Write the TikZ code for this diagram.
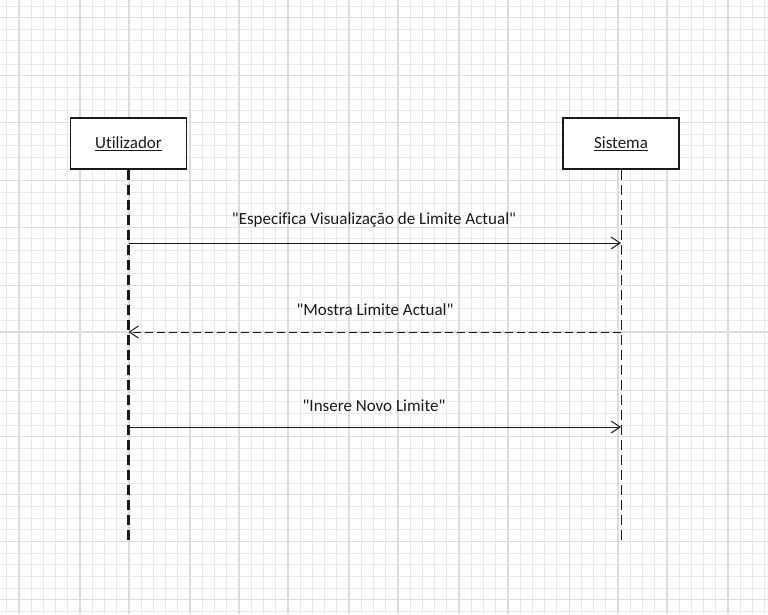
\documentclass[tikz,border=0pt]{standalone}
\usepackage{fontspec}
\setmainfont{Carlito}[Ligatures=NoCommon]
\usetikzlibrary{arrows.meta}
\definecolor{GridMinor}{HTML}{E9E9E9}
\definecolor{GridMajor}{HTML}{DCDCDC}
\definecolor{Ink}{HTML}{1A1A1A}
\tikzset{
  actor/.style={rectangle, draw=Ink, line width=1.3pt, fill=white,
             minimum width=116pt, minimum height=51pt, inner sep=0pt,
             font=\fontsize{17}{20}\selectfont, text=Ink},
  lifeline/.style={draw=Ink, dash pattern=on 10pt off 5pt},
  msg/.style={draw=Ink, line width=1pt, -{Straight Barb[length=9pt,width=12pt]}},
  reply/.style={msg, dash pattern=on 8pt off 4pt},
  mlabel/.style={font=\fontsize{17}{20}\selectfont, text=Ink, inner sep=1pt},
}

\begin{document}
\begin{tikzpicture}[x=1pt, y=-1pt]
\useasboundingbox (0,0) rectangle (768,614);
\fill[white] (0,0) rectangle (768,614);
% grid
\foreach \i in {0,...,62}
  \draw[GridMinor, line width=0.9pt] ({6.7+\i*12.226},0) -- ++(0,614);
\foreach \j in {0,...,52}
  \draw[GridMinor, line width=0.9pt] (0,{6+\j*11.64}) -- ++(768,0);
\foreach \i in {1,6,10,15,19,23,28,32,37,41,46,50,54,59}
  \draw[GridMajor, line width=1.2pt] ({6.7+\i*12.226},0) -- ++(0,614);
\foreach \j in {1,6,10,15,19,24,28,33,37,42,46,51}
  \draw[GridMajor, line width=1.2pt] (0,{6+\j*11.64}) -- ++(768,0);

% actors
\node[actor] (user) at (128.5,143.5) {\underline{Utilizador}};
\node[actor] (sys) at (621,143.5) {\underline{Sistema}};
\coordinate (userEnd) at (128.5,543);
\coordinate (sysEnd) at (621,543);
\draw[lifeline, line width=2.1pt] (user.south) -- (userEnd);
\draw[lifeline, line width=1pt] (sys.south) -- (sysEnd);

% messages
\coordinate (m1) at (0,243);
\coordinate (m2) at (0,332);
\coordinate (m3) at (0,427);
\draw[msg] (user |- m1) -- (sys |- m1);
\draw[reply] (sys |- m2) -- (user |- m2);
\draw[msg] (user |- m3) -- (sys |- m3);
\node[mlabel] (l1) at (374,220) {\textquotedbl Especifica Visualização de Limite Actual\textquotedbl};
\node[mlabel] (l2) at (375,310) {\textquotedbl Mostra Limite Actual\textquotedbl};
\node[mlabel] (l3) at (374,406) {\textquotedbl Insere Novo Limite\textquotedbl};
\end{tikzpicture}
\end{document}
